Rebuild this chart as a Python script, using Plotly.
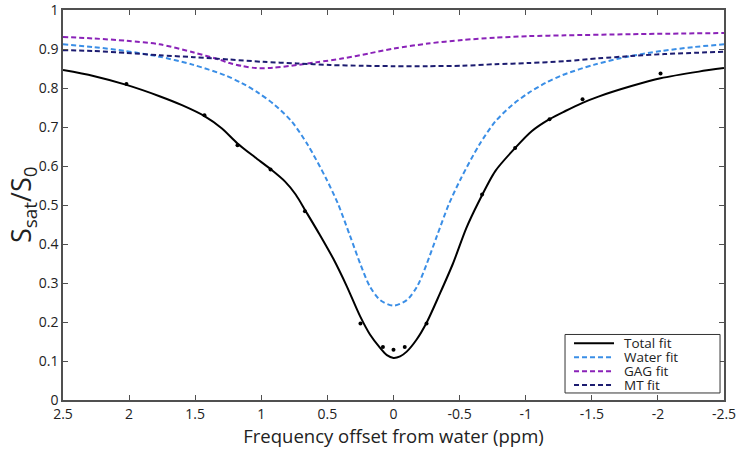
import plotly.graph_objects as go

# ---- data ----
total_x = [2.5, 2.27, 2.02, 1.77, 1.6, 1.43, 1.3, 1.18, 1.05, 0.93, 0.82, 0.74, 0.66, 0.56, 0.455, 0.354,
           0.253, 0.178, 0.10, 0.05, 0.0, -0.05, -0.10, -0.175, -0.25, -0.35, -0.45, -0.55, -0.64,
           -0.77, -0.92, -1.045, -1.18, -1.30, -1.43, -1.55, -1.80, -2.02, -2.31, -2.5]
total_y = [0.846, 0.831, 0.808, 0.779, 0.756, 0.728, 0.697, 0.658, 0.623, 0.592, 0.560, 0.527, 0.482,
           0.425, 0.362, 0.292, 0.215, 0.168, 0.133, 0.115, 0.108, 0.112, 0.124, 0.155, 0.198, 0.272,
           0.350, 0.440, 0.505, 0.587, 0.646, 0.689, 0.720, 0.741, 0.762, 0.778, 0.805, 0.825, 0.842, 0.851]

water_x = [2.5, 2.27, 2.03, 1.78, 1.52, 1.27, 1.15, 1.02, 0.90, 0.77, 0.65, 0.51, 0.42, 0.33, 0.25,
           0.18, 0.10, 0.0, -0.10, -0.18, -0.25, -0.33, -0.42, -0.51, -0.65, -0.77, -0.90, -1.02,
           -1.15, -1.27, -1.52, -1.78, -2.03, -2.27, -2.5]
water_y = [0.912, 0.905, 0.895, 0.881, 0.860, 0.832, 0.813, 0.787, 0.757, 0.714, 0.655, 0.568, 0.503,
           0.422, 0.348, 0.292, 0.256, 0.242, 0.256, 0.292, 0.348, 0.422, 0.503, 0.568, 0.655, 0.714,
           0.757, 0.787, 0.813, 0.832, 0.860, 0.881, 0.895, 0.905, 0.912]

gag_x = [2.5, 2.27, 2.02, 1.77, 1.51, 1.31, 1.24, 1.14, 1.035, 0.91, 0.73, 0.58, 0.38, 0.18, 0.0,
         -0.26, -0.52, -0.77, -1.02, -1.30, -1.80, -2.5]
gag_y = [0.931, 0.927, 0.921, 0.912, 0.891, 0.872, 0.864, 0.856, 0.851, 0.852, 0.859, 0.866, 0.876,
         0.889, 0.901, 0.914, 0.923, 0.929, 0.933, 0.935, 0.938, 0.941]

mt_x = [2.5, 2.27, 2.02, 1.77, 1.51, 1.24, 0.985, 0.73, 0.48, 0.23, 0.0, -0.26, -0.52, -0.77, -1.02,
        -1.30, -1.55, -1.80, -2.05, -2.5]
mt_y = [0.897, 0.895, 0.890, 0.884, 0.879, 0.873, 0.867, 0.863, 0.859, 0.857, 0.856, 0.856, 0.857,
        0.861, 0.864, 0.869, 0.876, 0.882, 0.887, 0.893]

meas_x = [2.02, 1.43, 1.18, 0.93, 0.67, 0.25, 0.08, 0.0, -0.085, -0.25, -0.67, -0.92, -1.18, -1.43, -2.02]
meas_y = [0.810, 0.730, 0.653, 0.591, 0.484, 0.196, 0.136, 0.129, 0.136, 0.196, 0.527, 0.646, 0.720, 0.771, 0.837]

series_names = ["Total fit", "Water fit", "GAG fit", "MT fit"]
series_colors = ["black", "#3a8ee6", "#8a22b8", "#1c1c70"]

x_tick_vals = [2.5, 2, 1.5, 1, 0.5, 0, -0.5, -1, -1.5, -2, -2.5]
x_tick_text = ["2.5", "2", "1.5", "1", "0.5", "0", "-0.5", "-1", "-1.5", "-2", "-2.5"]
y_tick_vals = [0, 0.1, 0.2, 0.3, 0.4, 0.5, 0.6, 0.7, 0.8, 0.9, 1]
y_tick_text = ["0", "0.1", "0.2", "0.3", "0.4", "0.5", "0.6", "0.7", "0.8", "0.9", "1"]

FONT = "Open Sans"
DASH = "5px,3px"
TXT = "#222222"

curves = [(total_x, total_y), (water_x, water_y), (gag_x, gag_y), (mt_x, mt_y)]

fig = go.Figure()
# dashed fits first, total fit on top
for i in [1, 2, 3, 0]:
    cx, cy = curves[i]
    fig.add_trace(go.Scatter(
        x=cx, y=cy, mode="lines", name=series_names[i], showlegend=False,
        line=dict(color=series_colors[i], width=2, dash=("solid" if i == 0 else DASH),
                  shape="spline", smoothing=0.8)))
fig.add_trace(go.Scatter(x=meas_x, y=meas_y, mode="markers", showlegend=False,
                         marker=dict(color="black", size=4)))

# ---- legend box drawn in paper coordinates ----
LX0, LX1, LY0, LY1 = 0.7595, 0.9940, 0.018, 0.168
row_y = [0.1454, 0.1097, 0.0740, 0.0383]
shapes = [dict(type="rect", xref="paper", yref="paper", x0=LX0, x1=LX1, y0=LY0, y1=LY1,
               line=dict(color="#333333", width=1), fillcolor="white", layer="above")]
annotations = []
for i, name in enumerate(series_names):
    shapes.append(dict(type="line", xref="paper", yref="paper", x0=0.7731, x1=0.8336,
                       y0=row_y[i], y1=row_y[i], layer="above",
                       line=dict(color=series_colors[i], width=2,
                                 dash=("solid" if i == 0 else DASH))))
    annotations.append(dict(x=0.8457, y=row_y[i], xref="paper", yref="paper", text=name,
                            showarrow=False, xanchor="left", yanchor="middle",
                            font=dict(family=FONT, size=13.5, color=TXT)))

# y-axis title
annotations.append(dict(x=0, y=0.5, xref="paper", yref="paper", xshift=-41,
                        text="S<sub>sat</sub>/S<sub>0</sub>", textangle=-90, showarrow=False,
                        xanchor="center", yanchor="middle",
                        font=dict(family=FONT, size=27, color=TXT)))

axis_common = dict(showgrid=False, zeroline=False, showline=True, linecolor="#505050", linewidth=1.5,
                   mirror="ticks", ticks="inside", ticklen=5, tickcolor="#505050", tickwidth=1,
                   automargin=False, ticklabeloverflow="allow",
                   tickfont=dict(family=FONT, size=14, color=TXT))

fig.update_layout(
    width=742, height=452,
    margin=dict(l=63, r=18, t=10, b=52),
    paper_bgcolor="white", plot_bgcolor="white",
    font=dict(family=FONT, color=TXT),
    xaxis=dict(range=[2.5, -2.5], tickmode="array", tickvals=x_tick_vals, ticktext=x_tick_text,
               title=dict(text="Frequency offset from water (ppm)",
                          font=dict(family=FONT, size=18.5, color=TXT), standoff=4),
               **axis_common),
    yaxis=dict(range=[0, 1], tickmode="array", tickvals=y_tick_vals, ticktext=y_tick_text,
               **axis_common),
    shapes=shapes,
    annotations=annotations,
    showlegend=False,
)

fig.write_html("out.html", config={"displayModeBar": False},
               post_script="document.body.style.margin='0';")
